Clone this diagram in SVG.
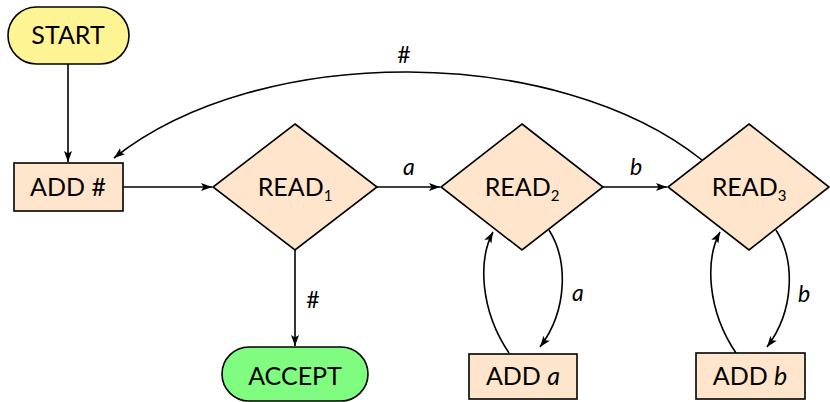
<svg xmlns="http://www.w3.org/2000/svg" width="830" height="402" viewBox="0 0 830 402">
<style>
  .n { fill: #ffe5cc; stroke: #000; stroke-width: 1.6; }
  .t { font-family: Lato, "Noto Sans", sans-serif; font-size: 25px; fill: #000; text-anchor: middle; }
  .s { font-size: 15px; }
  .l { font-family: Lato, "Noto Sans", sans-serif; font-size: 23px; fill: #000; text-anchor: middle; }
  .i { font-style: italic; }
  .e { fill: none; stroke: #000; stroke-width: 1.6; marker-end: url(#ah); }
</style>
<defs>
  <marker id="ah" markerUnits="userSpaceOnUse" markerWidth="12" markerHeight="10" refX="11" refY="4" orient="auto" viewBox="0 0 12 8">
    <path d="M0,0 L11,4 L0,8 L2.5,4 z" fill="#000"/>
  </marker>
</defs>
<rect width="830" height="402" fill="#fff"/>
<g id="connectors">
  <path class="e" d="M68,64 L68,162"/>
  <path class="e" d="M123,187 L212,187"/>
  <path class="e" d="M377,187 L440,187"/>
  <path class="e" d="M603,187 L667,187"/>
  <path class="e" d="M295,250 L295,346"/>
  <path class="e" d="M702,160 C557,44 260,42 114,158"/>
  <path class="e" d="M509,353 C480,310 478,260 493,232"/>
  <path class="e" d="M549,230 C568,260 568,310 540,347"/>
  <path class="e" d="M736,353 C707,310 705,260 720,232"/>
  <path class="e" d="M776,230 C795,260 795,310 767,347"/>
  <text class="l i" x="409" y="175">a</text>
  <text class="l i" x="636" y="175">b</text>
  <text class="l" x="404" y="63">#</text>
  <text class="l" x="313" y="308">#</text>
  <text class="l i" x="578" y="301">a</text>
  <text class="l i" x="804" y="302">b</text>
</g>
<g id="start">
  <rect x="8" y="7" width="121" height="57" rx="28.5" fill="#fff493" stroke="#000" stroke-width="1.6"/>
  <text class="t" x="68" y="44">START</text>
</g>
<g id="addhash">
  <rect class="n" x="14" y="163" width="109" height="48"/>
  <text class="t" x="68" y="196">ADD #</text>
</g>
<g id="read1">
  <polygon class="n" points="295,124 377,187 295,250 213,187"/>
  <text class="t" x="295" y="196">READ<tspan class="s" dy="5">1</tspan></text>
</g>
<g id="read2">
  <polygon class="n" points="522,124 603,187 522,250 441,187"/>
  <text class="t" x="522" y="196">READ<tspan class="s" dy="5">2</tspan></text>
</g>
<g id="read3">
  <polygon class="n" points="749,124 829,187 749,250 668,187"/>
  <text class="t" x="749" y="196">READ<tspan class="s" dy="5">3</tspan></text>
</g>
<g id="accept">
  <rect x="222" y="347" width="146" height="54" rx="27" fill="#80fc80" stroke="#000" stroke-width="1.6"/>
  <text class="t" x="295" y="385">ACCEPT</text>
</g>
<g id="adda">
  <rect class="n" x="469" y="354" width="108" height="45"/>
  <text class="t" x="523" y="385">ADD <tspan class="i">a</tspan></text>
</g>
<g id="addb">
  <rect class="n" x="696" y="353" width="109" height="46"/>
  <text class="t" x="750" y="385">ADD <tspan class="i">b</tspan></text>
</g>
</svg>
